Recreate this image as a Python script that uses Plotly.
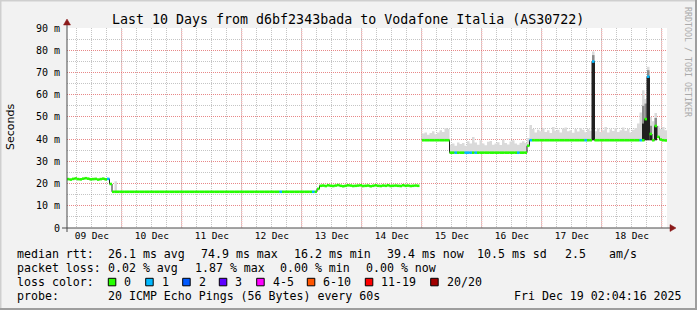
import plotly.graph_objects as go
from datetime import datetime, timedelta

# ---------------- data ----------------
START = datetime(2025, 12, 9, 2, 4, 16)
HOURS = 240

median_ms = [
    22.0, 21.8, 22.1, 22.3, 22.0, 21.9, 22.2, 22.4, 22.2, 21.9, 22.0, 22.1, 21.8, 22.0, 22.2, 21.9, 22.1, 19.8, 16.3, 16.3, 16.3, 16.3, 16.3, 16.3,
    16.3, 16.3, 16.3, 16.3, 16.3, 16.3, 16.3, 16.3, 16.3, 16.3, 16.3, 16.3, 16.3, 16.3, 16.3, 16.3, 16.3, 16.3, 16.3, 16.3, 16.3, 16.3, 16.3, 16.3,
    16.3, 16.3, 16.3, 16.3, 16.3, 16.3, 16.3, 16.3, 16.3, 16.3, 16.3, 16.3, 16.3, 16.3, 16.3, 16.3, 16.3, 16.3, 16.3, 16.3, 16.3, 16.3, 16.3, 16.3,
    16.3, 16.3, 16.3, 16.3, 16.3, 16.3, 16.3, 16.3, 16.3, 16.3, 16.3, 16.3, 16.3, 16.3, 16.3, 16.3, 16.3, 16.3, 16.3, 16.3, 16.3, 16.3, 16.3, 16.3,
    16.3, 16.3, 16.3, 16.3, 17.6, 19.0, 19.1, 18.9, 19.2, 19.0, 18.9, 19.1, 19.3, 19.0, 18.8, 19.0, 19.2, 19.1, 18.9, 19.0, 19.1, 19.2, 18.9, 19.0,
    19.1, 18.8, 19.0, 19.2, 19.0, 18.9, 19.1, 19.0, 19.2, 18.9, 19.0, 19.1, 19.0, 18.9, 19.2, 19.0, 19.1, 18.9, 19.0, 19.1, 19.0, None, 39.5, 39.5,
    39.5, 39.5, 39.5, 39.5, 39.5, 39.5, 39.5, 39.5, 39.5, 33.9, 33.9, 33.9, 33.9, 33.9, 33.9, 33.9, 33.9, 33.9, 33.9, 33.9, 33.9, 33.9, 33.9, 33.9,
    33.9, 33.9, 33.9, 33.9, 33.9, 33.9, 33.9, 33.9, 33.9, 33.9, 33.9, 33.9, 33.9, 33.9, 33.9, 33.9, 37.0, 39.5, 39.5, 39.5, 39.5, 39.5, 39.5, 39.5,
    39.5, 39.5, 39.5, 39.5, 39.5, 39.5, 39.5, 39.5, 39.5, 39.5, 39.5, 39.5, 39.5, 39.5, 39.5, 39.5, 39.5, 39.5, 74.9, 39.5, 39.5, 39.5, 39.5, 39.5,
    39.5, 39.5, 39.5, 39.5, 39.5, 39.5, 39.5, 39.5, 39.5, 39.5, 39.5, 39.5, 39.5, 39.5, 39.5, 49.0, 68.1, 42.3, 39.5, 45.9, 41.0, 39.8, 39.5, 39.4,
]

smoke_top_ms = [
    None, None, None, None, None, None, None, None, None, None, None, None, None, None, None, None, None, None, None, 21.0, None, None, None, None,
    None, None, None, None, None, None, None, None, None, None, None, None, None, None, None, None, None, None, None, None, None, None, None, None,
    None, None, None, None, None, None, None, None, None, None, None, None, None, None, None, None, None, None, None, None, None, None, None, None,
    None, None, None, None, None, None, None, None, None, None, None, None, None, None, None, None, None, None, None, None, None, None, None, None,
    None, None, None, None, None, None, None, None, None, None, None, None, None, None, None, None, None, None, None, None, None, None, None, None,
    None, None, None, None, None, None, None, None, None, None, None, None, None, None, None, None, None, None, None, None, None, None, 42.5, 43.0,
    42.0, 42.8, 43.5, 42.2, 43.0, 44.0, 43.2, 45.0, 44.5, 37.5, 38.0, 37.0, 38.5, 37.8, 38.2, 37.0, 39.0, 38.0, 41.0, 38.5, 37.5, 39.5, 38.0, 37.2,
    38.8, 39.2, 37.5, 38.0, 38.6, 37.4, 39.8, 38.2, 37.6, 38.9, 39.5, 38.0, 37.5, 38.4, 39.0, 38.2, 40.5, 46.4, 44.5, 43.0, 44.2, 43.5, 45.0, 43.2,
    44.0, 42.8, 45.5, 43.8, 44.2, 43.0, 44.8, 45.2, 43.5, 44.0, 42.9, 44.6, 43.4, 45.0, 44.2, 43.1, 44.5, 43.8, 79.4, 43.5, 44.8, 43.2, 44.0, 45.5,
    43.0, 44.4, 43.6, 44.9, 43.2, 44.0, 45.2, 43.8, 44.5, 43.0, 44.2, 45.0, 47.0, 52.0, 62.0, 58.0, 72.6, 50.0, 48.0, 51.7, 46.0, 44.5, 45.5, 44.0,
]

# dense (dark) smoke under the spikes: hour, lower edge, dark top, mid-grey top
spike_hours = [210, 230, 231, 232, 233, 235]
spike_base_ms = [39.5, 39.5, 39.5, 39.5, 39.5, 39.5]
spike_dark_ms = [74.9, 47.0, 49.0, 68.1, 42.3, 45.9]
spike_mid_ms = [77.8, 55.0, 56.0, 71.0, 46.0, 49.5]

loss_one_hours = [16, 85, 98, 155, 159, 160, 161, 163, 180, 185, 207, 210, 229, 232]

y_tick_values = [0, 10, 20, 30, 40, 50, 60, 70, 80, 90]
y_tick_labels = ["0", "10 m", "20 m", "30 m", "40 m", "50 m", "60 m", "70 m", "80 m", "90 m"]
day_labels = ["09 Dec", "10 Dec", "11 Dec", "12 Dec", "13 Dec", "14 Dec", "15 Dec", "16 Dec", "17 Dec", "18 Dec"]

loss_legend = [("0", "#26ff00"), ("1", "#00b8ff"), ("2", "#0059ff"), ("3", "#5e00ff"),
               ("4-5", "#ff00ff"), ("6-10", "#ff5500"), ("11-19", "#ff0000"), ("20/20", "#a10000")]

# ---------------- geometry ----------------
W, H = 697, 310
PL, PR, PT, PB = 67, 667, 28, 228
MONO = "DejaVu Sans Mono"


def px(x):
    return (x - PL) / (PR - PL)


def py(y):
    return (PB - y) / (PB - PT)


times = [START + timedelta(hours=i) for i in range(HOURS + 1)]
END = times[-1]

fig = go.Figure()

# smoke polygons (contiguous runs)
runs, cur = [], []
for i in range(HOURS):
    if smoke_top_ms[i] is not None and median_ms[i] is not None:
        cur.append(i)
    else:
        if cur:
            runs.append(cur)
        cur = []
if cur:
    runs.append(cur)
for run in runs:
    xs, ys = [], []
    for i in run:
        xs += [times[i], times[i + 1]]
        ys += [smoke_top_ms[i], smoke_top_ms[i]]
    for i in reversed(run):
        xs += [times[i + 1], times[i]]
        ys += [median_ms[i], median_ms[i]]
    fig.add_trace(go.Scatter(x=xs, y=ys, mode="lines", fill="toself", fillcolor="#dadada",
                             line=dict(width=0, color="#dadada"), hoverinfo="skip", showlegend=False))

# dense smoke at spikes
for tops, col in [(spike_mid_ms, "#8c8c8c"), (spike_dark_ms, "#202020")]:
    for h, lo, hi in zip(spike_hours, spike_base_ms, tops):
        fig.add_trace(go.Scatter(x=[times[h], times[h + 1], times[h + 1], times[h], times[h]],
                                 y=[lo, lo, hi, hi, lo], mode="lines", fill="toself", fillcolor=col,
                                 line=dict(width=0, color=col), hoverinfo="skip", showlegend=False))

# median black line (step)
mx = times[:HOURS] + [END]
my = median_ms + [median_ms[-1]]
fig.add_trace(go.Scatter(x=mx, y=my, mode="lines", line=dict(color="#202020", width=1, shape="hv"),
                         connectgaps=False, hoverinfo="skip", showlegend=False))

# loss-coloured bands
for lvl, color in [(0, "#26ff00"), (1, "#00b8ff")]:
    xs, ys = [], []
    for i in range(HOURS):
        if median_ms[i] is None:
            continue
        is_one = i in loss_one_hours
        if (lvl == 1) != is_one:
            continue
        xs += [times[i], times[i + 1], None]
        ys += [median_ms[i], median_ms[i], None]
    fig.add_trace(go.Scatter(x=xs, y=ys, mode="lines", line=dict(color=color, width=2.6),
                             connectgaps=False, hoverinfo="skip", showlegend=False))

shapes = []
# midnight red grid lines
d = datetime(2025, 12, 10)
while d < END:
    shapes.append(dict(type="line", xref="x", yref="paper", x0=d, x1=d, y0=0, y1=1, layer="below",
                       line=dict(color="rgba(255,95,95,0.6)", width=1, dash="1px,1px")))
    d += timedelta(days=1)

AX = "#4a4a4a"
AR = "#8b1a1a"
# axes lines
shapes.append(dict(type="line", xref="paper", yref="paper", x0=px(62), x1=px(671), y0=py(228), y1=py(228),
                   line=dict(color=AX, width=1)))
shapes.append(dict(type="line", xref="paper", yref="paper", x0=px(67), x1=px(67), y0=py(232), y1=py(23),
                   line=dict(color=AX, width=1)))
# arrows
shapes.append(dict(type="path", xref="paper", yref="paper",
                   path=f"M {px(670)},{py(224.5)} L {px(676)},{py(228)} L {px(670)},{py(231.5)} Z",
                   fillcolor=AR, line=dict(color=AR, width=0.5)))
shapes.append(dict(type="path", xref="paper", yref="paper",
                   path=f"M {px(63.5)},{py(25)} L {px(67)},{py(19)} L {px(70.5)},{py(25)} Z",
                   fillcolor=AR, line=dict(color=AR, width=0.5)))
# frame shading
shapes.append(dict(type="rect", xref="paper", yref="paper", x0=px(0), x1=px(697), y0=py(0), y1=py(1.5),
                   fillcolor="#cfcfcf", line=dict(width=0), layer="below"))
shapes.append(dict(type="rect", xref="paper", yref="paper", x0=px(0), x1=px(1.5), y0=py(0), y1=py(310),
                   fillcolor="#cfcfcf", line=dict(width=0), layer="below"))
shapes.append(dict(type="rect", xref="paper", yref="paper", x0=px(695), x1=px(697), y0=py(0), y1=py(310),
                   fillcolor="#9e9e9e", line=dict(width=0), layer="below"))
shapes.append(dict(type="rect", xref="paper", yref="paper", x0=px(0), x1=px(697), y0=py(308), y1=py(310),
                   fillcolor="#9e9e9e", line=dict(width=0), layer="below"))

annotations = []


def text(t, x, y, size=11.6, color="#000000", anchor="left", font=MONO, angle=0):
    annotations.append(dict(text=t, xref="paper", yref="paper", x=px(x), y=py(y), xanchor=anchor,
                            yanchor="middle", showarrow=False, textangle=angle,
                            font=dict(family=font, size=size, color=color), borderpad=0))


text("Last 10 Days from d6bf2343bada to Vodafone Italia (AS30722)", 348, 19, size=13.3, anchor="center")
text("Seconds", 10, 127, size=11, font="DejaVu Sans", anchor="center", angle=-90)
text("RRDTOOL / TOBI OETIKER", 688, 62, size=8.3, color="#aaaaaa", anchor="center", angle=90)

row1 = [("median rtt:", 16), ("26.1 ms avg", 107), ("74.9 ms max", 200), ("16.2 ms min", 293),
        ("39.4 ms now", 386), ("10.5 ms sd", 476), ("2.5", 564), ("am/s", 607.5)]
row2 = [("packet loss:", 16), ("0.02 % avg", 107), ("1.87 % max", 194), ("0.00 % min", 279), ("0.00 % now", 365)]
row4 = [("probe:", 16), ("20 ICMP Echo Pings (56 Bytes) every 60s", 107), ("Fri Dec 19 02:04:16 2025", 513)]
for t, x in row1:
    text(t, x, 254)
for t, x in row2:
    text(t, x, 268)
for t, x in row4:
    text(t, x, 296)
text("loss color:", 16, 282)
box_x = [108.3, 145.7, 182.7, 219.3, 256.7, 307.3, 365.3, 430.7]
for (lab, col), bx in zip(loss_legend, box_x):
    shapes.append(dict(type="rect", xref="paper", yref="paper", x0=px(bx), x1=px(bx + 7.5),
                       y0=py(278.3), y1=py(285.8), fillcolor=col, line=dict(color="#000000", width=1)))
    text(lab, bx + 15, 282)

fig.update_layout(
    width=W, height=H,
    margin=dict(l=PL, r=W - PR, t=PT, b=H - PB, pad=0),
    paper_bgcolor="#f2f2f2", plot_bgcolor="#ffffff",
    showlegend=False,
    shapes=shapes, annotations=annotations,
    xaxis=dict(
        type="date", range=[START, END], showgrid=False, zeroline=False, showline=False,
        tickvals=[datetime(2025, 12, 9 + k, 12) for k in range(len(day_labels))], ticktext=day_labels,
        ticks="", tickfont=dict(family=MONO, size=9.5, color="#000000"),
        minor=dict(dtick=6 * 3600 * 1000, tick0="2025-12-09 00:00", showgrid=True,
                   gridcolor="rgba(110,110,110,0.4)", griddash="1px,1px", gridwidth=1),
        fixedrange=True,
    ),
    yaxis=dict(
        range=[0, 90], tickvals=y_tick_values, ticktext=y_tick_labels, showgrid=True,
        gridcolor="rgba(255,95,95,0.6)", griddash="1px,1px", gridwidth=1,
        zeroline=False, showline=False, ticks="", ticklabelstandoff=6,
        tickfont=dict(family=MONO, size=10, color="#000000"),
        minor=dict(dtick=5, showgrid=True, gridcolor="rgba(110,110,110,0.4)", griddash="1px,1px", gridwidth=1),
        fixedrange=True,
    ),
)

fig.write_html("out.html")
